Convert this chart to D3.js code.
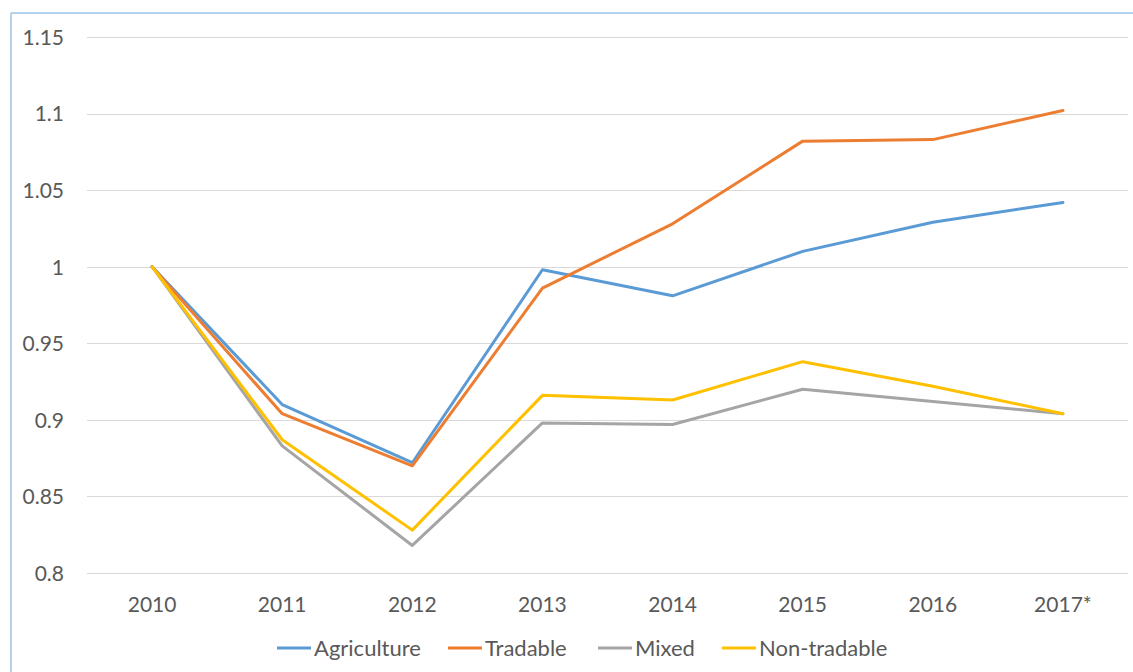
<!DOCTYPE html>
<html>
<head>
<meta charset="utf-8">
<script src="https://cdn.jsdelivr.net/npm/d3@7"></script>
<style>
  body { margin: 0; background: #fff; }
  svg text { font-family: Lato, "Noto Sans", sans-serif; fill: #595959; }
</style>
</head>
<body>
<svg id="chart" width="1133" height="672"></svg>
<script>
// categories and series
var years = ["2010", "2011", "2012", "2013", "2014", "2015", "2016", "2017*"];
var agriculture = [1.0, 0.910, 0.872, 0.998, 0.981, 1.010, 1.029, 1.042];
var tradable = [1.0, 0.904, 0.870, 0.986, 1.028, 1.082, 1.083, 1.102];
var mixed = [1.0, 0.883, 0.818, 0.898, 0.897, 0.920, 0.912, 0.904];
var nonTradable = [1.0, 0.887, 0.828, 0.916, 0.913, 0.938, 0.922, 0.904];
var yTicks = [0.8, 0.85, 0.9, 0.95, 1, 1.05, 1.1, 1.15];

var series = [
  {name: "Agriculture", values: agriculture, color: "#5B9BD5"},
  {name: "Tradable", values: tradable, color: "#ED7D31"},
  {name: "Mixed", values: mixed, color: "#A5A5A5"},
  {name: "Non-tradable", values: nonTradable, color: "#FFC000"}
];

var svg = d3.select("#chart");
var plotLeft = 87, plotRight = 1128, plotTop = 37, plotBottom = 573;

// frame lines (top and left)
svg.append("line").attr("x1", 11).attr("x2", 1133).attr("y1", 13).attr("y2", 13)
  .attr("stroke", "#9DC3E6").attr("stroke-width", 1.5);
svg.append("line").attr("x1", 11).attr("x2", 11).attr("y1", 13).attr("y2", 672)
  .attr("stroke", "#9DC3E6").attr("stroke-width", 1.5);

var x = d3.scaleBand().domain(years).range([plotLeft, plotRight]);
var y = d3.scaleLinear().domain([0.8, 1.15]).range([plotBottom, plotTop]);

// gridlines
svg.append("g").selectAll("line").data(yTicks).enter().append("line")
  .attr("x1", plotLeft).attr("x2", plotRight)
  .attr("y1", function(d){return Math.round(y(d)) + 0.5;})
  .attr("y2", function(d){return Math.round(y(d)) + 0.5;})
  .attr("stroke", "#D9D9D9").attr("stroke-width", 1);

// y axis labels
var yAxis = d3.axisLeft(y).tickValues(yTicks).tickSize(0).tickPadding(0)
  .tickFormat(function(d){return String(+d.toFixed(2));});
var gy = svg.append("g").attr("transform", "translate(64,0)").call(yAxis);
gy.select(".domain").remove();
gy.selectAll("text").style("font-size", "21px").attr("fill", "#595959").attr("dy", "0.35em");

// x axis labels
var xAxis = d3.axisBottom(x).tickSize(0).tickPadding(0);
var gx = svg.append("g").attr("transform", "translate(0,596)").call(xAxis);
gx.select(".domain").remove();
gx.selectAll("text").style("font-size", "21px").attr("fill", "#595959").attr("dy", "0.75em");

// lines
var line = d3.line()
  .x(function(d, i){return x(years[i]) + x.bandwidth() / 2;})
  .y(function(d){return y(d);});

svg.append("g").selectAll("path").data(series).enter().append("path")
  .attr("d", function(d){return line(d.values);})
  .attr("fill", "none")
  .attr("stroke", function(d){return d.color;})
  .attr("stroke-width", 3)
  .attr("stroke-linejoin", "round")
  .attr("stroke-linecap", "round");

// legend
var legendX = [277, 448, 598, 722];
var legend = svg.append("g").selectAll("g").data(series).enter().append("g")
  .attr("transform", function(d, i){return "translate(" + legendX[i] + ",648)";});
legend.append("line").attr("x1", 0).attr("x2", 34).attr("y1", 0).attr("y2", 0)
  .attr("stroke", function(d){return d.color;}).attr("stroke-width", 3);
legend.append("text").attr("x", 37).attr("dy", "0.35em")
  .style("font-size", "22px")
  .text(function(d){return d.name;});
</script>
</body>
</html>
